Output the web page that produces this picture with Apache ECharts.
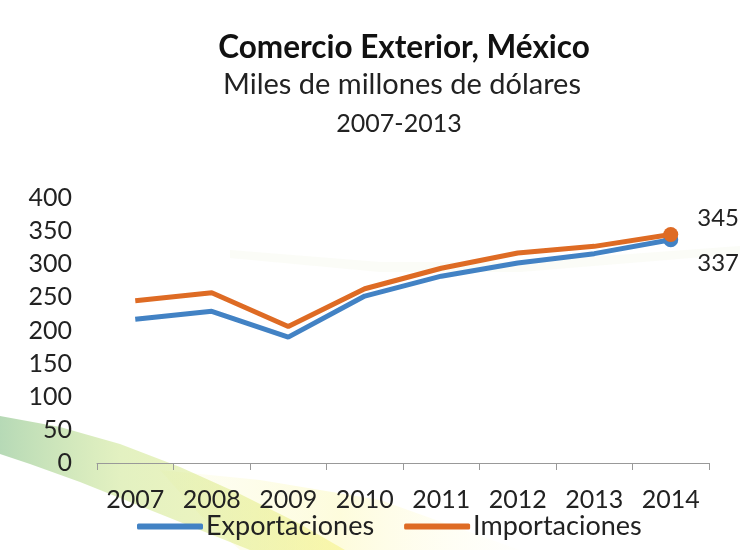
<!DOCTYPE html>
<html>
<head>
<meta charset="utf-8">
<script src="https://cdn.jsdelivr.net/npm/echarts@6/dist/echarts.min.js"></script>
<style>
html,body{margin:0;padding:0;background:#fff;}
#c{width:740px;height:550px;}
</style>
</head>
<body>
<div id="c"></div>
<script>
const years = ['2007','2008','2009','2010','2011','2012','2013','2014'];
const exportaciones = [217, 229, 190, 252, 282, 302, 316, 337];
const importaciones = [245, 257, 206, 263, 294, 317, 327, 345];
const yTicks = [0, 50, 100, 150, 200, 250, 300, 350, 400];

const FONT = 'Lato, "Open Sans", sans-serif';
const chart = echarts.init(document.getElementById('c'));

function withLastLabel(arr, offset) {
  return arr.map((v, i) => i === arr.length - 1 ? {
    value: v,
    symbolSize: 15,
    label: { show: true, position: 'right', offset: offset, fontSize: 24, color: '#222', fontFamily: FONT }
  } : { value: v, symbolSize: 0 });
}

chart.setOption({
  backgroundColor: '#ffffff',
  graphic: [
    { type: 'polygon', silent: true, z: -10,
      shape: { points: [[0,416],[60,427],[120,444],[180,467],[240,494],[300,524],[345,550],
                        [250,550],[200,530],[140,506],[80,482],[30,464],[0,454]] },
      style: { fill: new echarts.graphic.LinearGradient(0, 0, 1, 0, [
        { offset: 0, color: 'rgba(110,180,110,0.5)' },
        { offset: 0.35, color: 'rgba(185,220,100,0.4)' },
        { offset: 1, color: 'rgba(245,240,110,0.45)' }]) } },
    { type: 'polygon', silent: true, z: -11,
      shape: { points: [[160,470],[260,480],[380,500],[520,550],[240,550],[200,515]] },
      style: { fill: new echarts.graphic.LinearGradient(0, 0, 1, 0, [
        { offset: 0, color: 'rgba(245,245,170,0.1)' },
        { offset: 0.5, color: 'rgba(250,245,140,0.3)' },
        { offset: 1, color: 'rgba(255,250,210,0.05)' }]) } },
    { type: 'polygon', silent: true, z: -11,
      shape: { points: [[230,250],[380,262],[520,262],[740,246],[740,254],[520,272],[380,272],[230,258]] },
      style: { fill: 'rgba(238,242,222,0.25)' } }
  ],
  title: [
    { text: 'Comercio Exterior, México', left: 399, top: 27, textAlign: 'center',
      textStyle: { fontFamily: FONT, fontSize: 31.5, fontWeight: 'bold', color: '#111' } },
    { text: 'Miles de millones de dólares', left: 397, top: 65, textAlign: 'center',
      textStyle: { fontFamily: FONT, fontSize: 29, fontWeight: 'normal', color: '#222' } },
    { text: '2007-2013', left: 394, top: 106, textAlign: 'center',
      textStyle: { fontFamily: FONT, fontSize: 25, fontWeight: 'normal', color: '#222' } }
  ],
  legend: {
    bottom: 5, left: 132,
    itemWidth: 66, itemHeight: 6, itemGap: 30,
    icon: 'roundRect',
    textStyle: { fontFamily: FONT, fontSize: 27, color: '#222', padding: [0, 0, 0, -2] },
    data: ['Exportaciones', 'Importaciones']
  },
  grid: { left: 97, right: 31, top: 198, bottom: 87, containLabel: false },
  xAxis: {
    type: 'category', data: years, boundaryGap: true,
    axisLine: { lineStyle: { color: '#999', width: 1 } },
    axisTick: { show: true, length: 7, lineStyle: { color: '#999' } },
    axisLabel: { fontFamily: FONT, fontSize: 25, color: '#222', margin: 24 }
  },
  yAxis: {
    type: 'value', min: 0, max: 400, interval: 50,
    axisLine: { show: false }, axisTick: { show: false }, splitLine: { show: false },
    axisLabel: { fontFamily: FONT, fontSize: 25, color: '#222', margin: 25,
      formatter: v => yTicks.includes(v) ? String(v) : '' }
  },
  series: [
    { name: 'Exportaciones', type: 'line', data: withLastLabel(exportaciones, [14, 24]),
      symbol: 'circle', showSymbol: true,
      lineStyle: { width: 5, color: '#4282c4' }, itemStyle: { color: '#4282c4' },
      z: 2 },
    { name: 'Importaciones', type: 'line', data: withLastLabel(importaciones, [14, -16]),
      symbol: 'circle', showSymbol: true,
      lineStyle: { width: 5, color: '#de6b24' }, itemStyle: { color: '#de6b24' },
      z: 3 }
  ],
  animation: false
});
</script>
</body>
</html>
